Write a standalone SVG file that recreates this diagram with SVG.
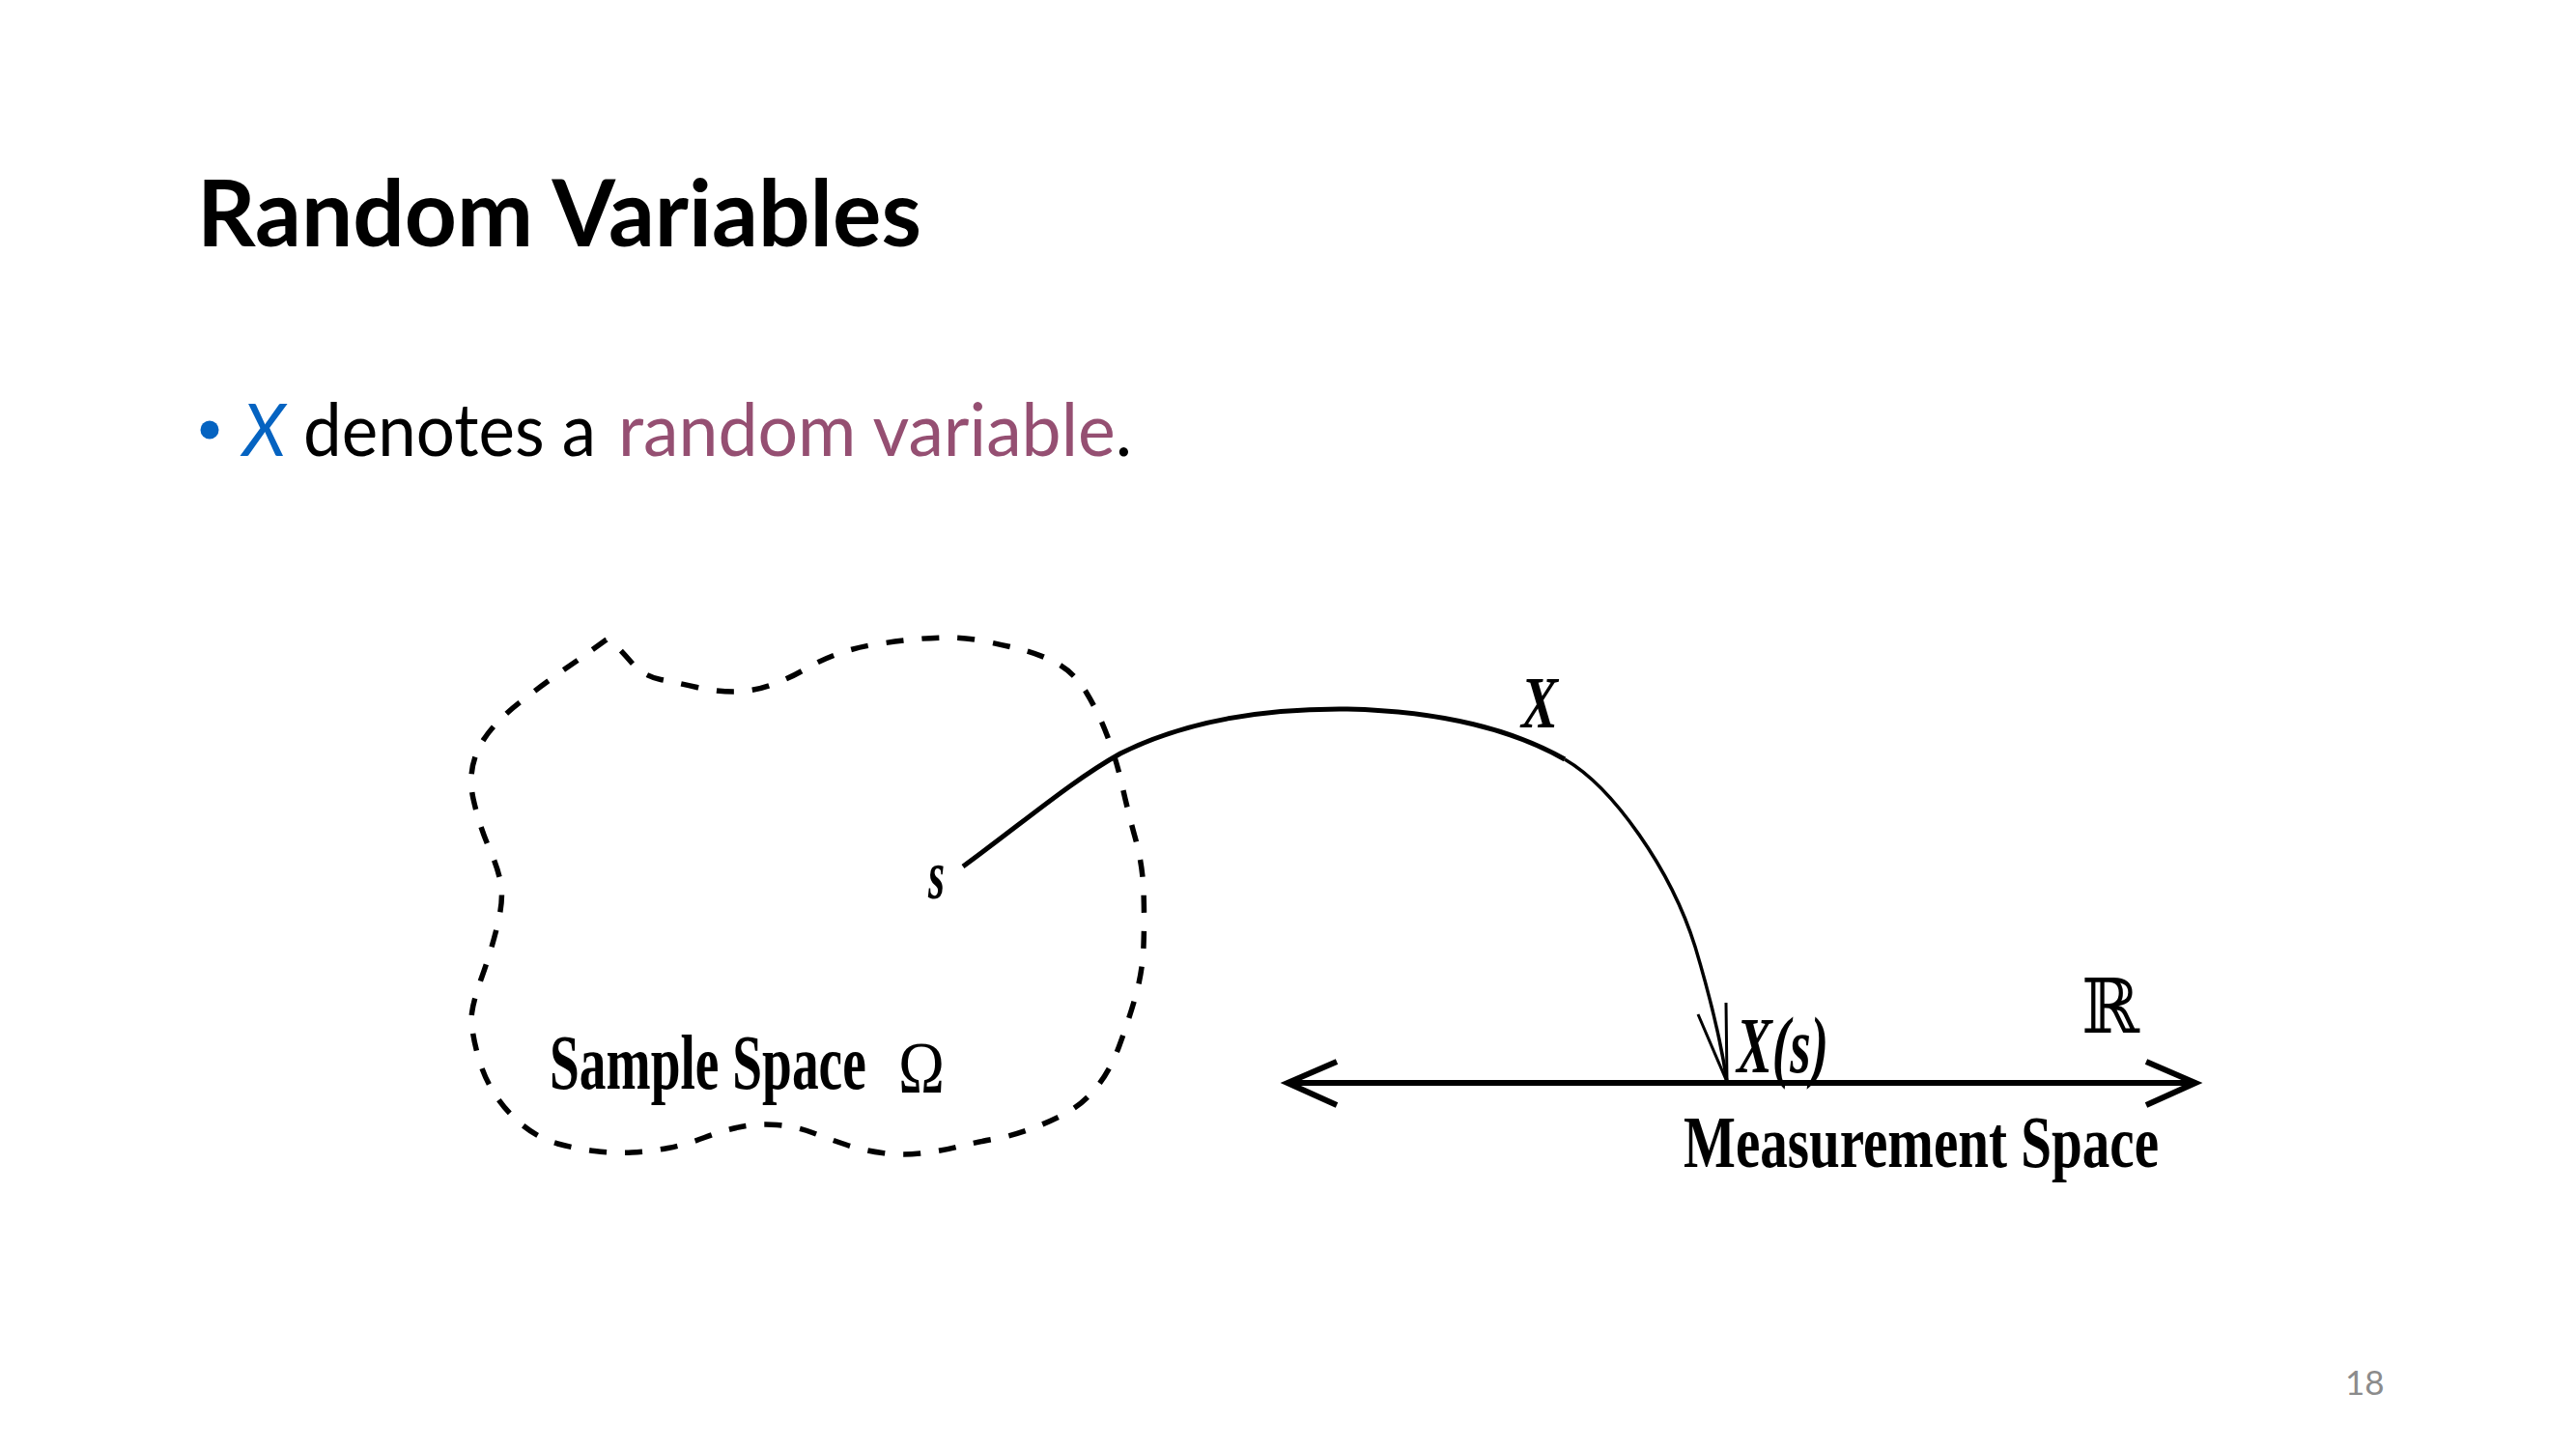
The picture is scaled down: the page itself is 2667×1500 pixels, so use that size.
<svg xmlns="http://www.w3.org/2000/svg" width="2667" height="1500" viewBox="0 0 2667 1500">
<style>
.sans{font-family:Lato,"Open Sans","Liberation Sans",sans-serif}
.serif{font-family:"Liberation Serif","DejaVu Serif",serif;fill:#000;font-weight:bold}
.ln{fill:none;stroke:#000;stroke-linecap:butt;stroke-linejoin:miter}
</style>
<rect width="2667" height="1500" fill="#fff"/>
<g id="title">
<text class="sans" x="204" y="255" font-size="96" font-weight="bold" fill="#000" textLength="750" lengthAdjust="spacingAndGlyphs">Random Variables</text>
</g>
<g id="bullet">
<circle cx="217" cy="445" r="9.5" fill="#0563C1"/>
<text class="sans" x="251" y="472" font-size="76" font-style="italic" fill="#0563C1" textLength="45" lengthAdjust="spacingAndGlyphs">X</text>
<text class="sans" x="314" y="472" font-size="76" fill="#000" textLength="303" lengthAdjust="spacingAndGlyphs">denotes a</text>
<text class="sans" transform="translate(640,472) scale(0.875,1)" x="0" y="0" font-size="76" textLength="608" lengthAdjust="spacingAndGlyphs"><tspan fill="#954F72">random variable</tspan><tspan fill="#000">.</tspan></text>
</g>
<g id="sample-space">
<path class="ln" stroke-width="5.5" stroke-dasharray="18 19" d="M628,662 L601,681.5 Q572,701 539,726.5 Q506,752 495,776 Q484,800 490,827 Q496,854 506.5,878 Q517,902 519,918 Q521,934 514.5,960 Q508,986 499,1011 Q490,1036 488.5,1049 Q487,1062 493.5,1088 Q500,1114 512.5,1133 Q525,1152 542,1165.5 Q559,1179 577.5,1184 Q596,1189 615.5,1191.5 Q635,1194 654,1193 Q673,1192 691.5,1188.5 Q710,1185 729.5,1177.5 Q749,1170 767,1166.5 Q785,1163 804.5,1164.5 Q824,1166 841,1172.5 Q858,1179 876,1185 Q894,1191 913.5,1193.5 Q933,1196 952.5,1194 Q972,1192 990,1187.5 Q1008,1183 1027.5,1179.5 Q1047,1176 1065,1169.5 Q1083,1163 1101.5,1153.5 Q1120,1144 1134.5,1126.5 Q1149,1109 1158.5,1083.5 Q1168,1058 1175.5,1032 Q1183,1006 1184,978.5 Q1185,951 1184,923 Q1183,895 1175.5,868 Q1168,841 1162,814 Q1156,787 1146.5,762 Q1137,737 1124.5,716.5 Q1112,696 1094,686.5 Q1076,677 1058,672.5 Q1040,668 1020.5,664 Q1001,660 982.5,660 Q964,660 945,662 Q926,664 906.5,667 Q887,670 868.5,676.5 Q850,683 833,693 Q816,703 797,709.5 Q778,716 759.5,716 Q741,716 721.5,711.5 Q702,707 684,703.5 Q666,700 654,686 Q642,672 636,667 L628,662"/>
<text class="serif" x="961" y="930" font-size="72" font-style="italic" textLength="17" lengthAdjust="spacingAndGlyphs">s</text>
<text class="serif" transform="translate(569,1127) scale(0.693,1)" x="0" y="0" font-size="80" textLength="473" lengthAdjust="spacingAndGlyphs">Sample Space</text>
<text class="serif" x="930" y="1131" font-size="76" style="font-weight:normal" textLength="48" lengthAdjust="spacingAndGlyphs">Ω</text>
</g>
<g id="measurement-space">
<path class="ln" stroke-width="6" d="M1334,1121 H2272"/>
<path class="ln" stroke-width="6" d="M1384,1099 L1333,1121 L1384,1144"/>
<path class="ln" stroke-width="6" d="M2222,1099 L2273,1121 L2222,1144"/>
<text class="serif" x="1798" y="1110" font-size="82" font-style="italic" textLength="95" lengthAdjust="spacingAndGlyphs">X(s)</text>
<text x="2155" y="1069" font-size="78" font-family="'DejaVu Serif','DejaVu Sans',serif" fill="#000" textLength="60" lengthAdjust="spacingAndGlyphs">ℝ</text>
<text class="serif" x="1743" y="1208" font-size="76" textLength="492" lengthAdjust="spacingAndGlyphs">Measurement Space</text>
</g>
<g id="connectors">
<path class="ln" stroke-width="5" d="M997,897 C1060,851 1110,808 1160,780 C1220,750 1300,733 1395,734 C1480,736 1560,752 1620,786"/>
<path class="ln" stroke-width="3.5" d="M1620,786 C1670,815 1730,900 1755,980 C1770,1030 1782,1080 1788,1120"/>
<path class="ln" stroke-width="3" d="M1758,1050 L1788,1120 L1787,1038"/>
<text class="serif" x="1575" y="753" font-size="76" font-style="italic" textLength="38" lengthAdjust="spacingAndGlyphs">X</text>
</g>
<g id="page-number">
<text class="sans" x="2428" y="1444" font-size="35" fill="#8B8B8B">18</text>
</g>
</svg>
